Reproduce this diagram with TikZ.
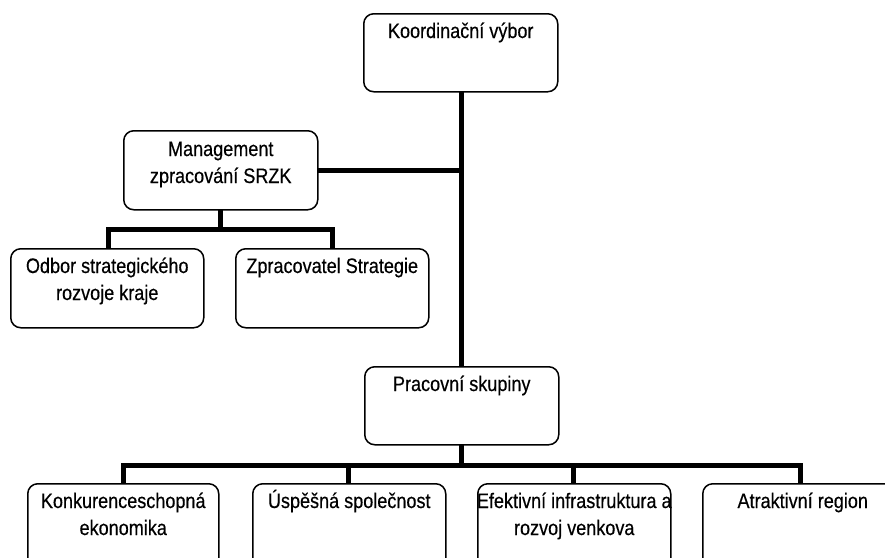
\documentclass[tikz,border=0pt]{standalone}
\usepackage{fontspec}
\setmainfont{Liberation Sans}[FakeStretch=0.86,FakeBold=0.4]
\pgfdeclarelayer{links}
\pgfsetlayers{links,main}
\begin{document}
\begin{tikzpicture}[x=1pt,y=-1pt,
  box/.style={draw=black, line width=1.5pt, rounded corners=10pt, fill=white,
    rectangle, inner sep=0pt, anchor=north west},
  lbl/.style={anchor=base, align=center, inner sep=0pt,
    font=\fontsize{21}{27}\selectfont},
  conn/.style={draw=black, line width=5pt, line cap=rect}]
\useasboundingbox (0,0) rectangle (885,557);
\clip (0,0) rectangle (885,557);

\coordinate (spine) at (461,0);
\coordinate (lbar) at (0,229);
\coordinate (bbar) at (0,465);

% boxes
\node[box, minimum width=194pt, minimum height=78pt] (koord) at (363,13) {};
\node[box, minimum width=194pt, minimum height=79pt] (mgmt)  at (123,130) {};
\node[box, minimum width=193pt, minimum height=79pt] (odbor) at (10,248) {};
\node[box, minimum width=193pt, minimum height=79pt] (zprac) at (235,248) {};
\node[box, minimum width=194pt, minimum height=78pt] (prac)  at (364,366) {};
\node[box, minimum width=191pt, minimum height=100pt] (konk) at (27,483) {};
\node[box, minimum width=193pt, minimum height=100pt] (uspe) at (252,483) {};
\node[box, minimum width=193pt, minimum height=100pt] (efek) at (477,483) {};
\node[box, minimum width=200pt, minimum height=100pt] (atra) at (702,483) {};

% connectors, kept behind the boxes
\begin{pgfonlayer}{links}
\fill[white] (0,0) rectangle (885,557);
\draw[conn] (koord.south -| spine) -- (prac.north -| spine);
\draw[conn] (mgmt.east) -- (mgmt.east -| spine);
\draw[conn] (mgmt.south) -- (mgmt.south |- lbar);
\draw[conn] (lbar -| 108,0) -- (lbar -| 332,0);
\draw[conn] (lbar -| 108,0) -- (odbor.north -| 108,0);
\draw[conn] (lbar -| 332,0) -- (zprac.north -| 332,0);
\draw[conn] (prac.south -| spine) -- (bbar -| spine);
\draw[conn] (bbar -| 123,0) -- (bbar -| 800,0);
\draw[conn] (bbar -| 123,0) -- (konk.north -| 123,0);
\draw[conn] (bbar -| 348,0) -- (uspe.north -| 348,0);
\draw[conn] (bbar -| 573,0) -- (efek.north -| 573,0);
\draw[conn] (bbar -| 800,0) -- (atra.north -| 800,0);
\end{pgfonlayer}

% labels (base anchor sits on the last line)
\node[lbl] (tkoord) at ([yshift=-25pt]koord.north) {Koordinační výbor};
\node[lbl] (tmgmt)  at ([yshift=-53pt]mgmt.north)  {Management\\zpracování SRZK};
\node[lbl] (todbor) at ([yshift=-52pt]odbor.north) {Odbor strategického\\rozvoje kraje};
\node[lbl] (tzprac) at ([yshift=-25pt]zprac.north) {Zpracovatel Strategie};
\node[lbl] (tprac)  at ([yshift=-25pt]prac.north)  {Pracovní skupiny};
\node[lbl] (tkonk)  at ([yshift=-52pt]konk.north)  {Konkurenceschopná\\ekonomika};
\node[lbl] (tuspe)  at ([yshift=-25pt]uspe.north)  {Úspěšná společnost};
\node[lbl] (tefek)  at ([yshift=-52pt]efek.north)  {Efektivní infrastruktura a\\rozvoj venkova};
\node[lbl] (tatra)  at ([yshift=-25pt]atra.north)  {Atraktivní region};
\end{tikzpicture}
\end{document}
